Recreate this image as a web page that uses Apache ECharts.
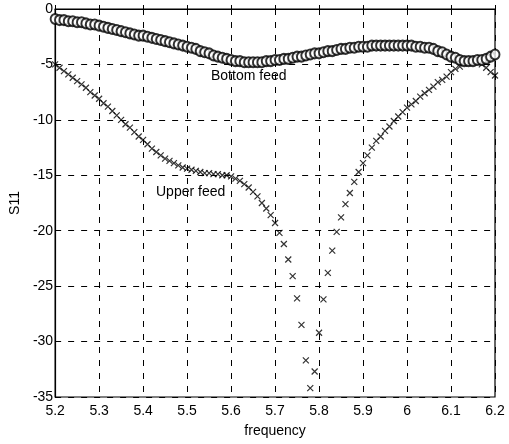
<!DOCTYPE html>
<html>
<head>
<meta charset="utf-8">
<script src="https://cdn.jsdelivr.net/npm/echarts@6/dist/echarts.min.js"></script>
<style>
  html, body { margin: 0; padding: 0; background: #fff; }
  #chart { width: 509px; height: 444px; }
</style>
</head>
<body>
<div id="chart"></div>
<script>
// frequency points, 5.20 .. 6.20 in steps of 0.01
var freq = [];
for (var i = 0; i <= 100; i++) freq.push(+(5.2 + i * 0.01).toFixed(2));

// S11, bottom feed (circles)
var bottomFeed = [
  -0.9, -1.0, -1.0, -1.1, -1.1, -1.2, -1.2, -1.3, -1.4, -1.4,
  -1.5, -1.6, -1.7, -1.8, -1.9, -2.0, -2.1, -2.2, -2.3, -2.4,
  -2.4, -2.5, -2.6, -2.7, -2.8, -2.9, -3.0, -3.1, -3.2, -3.3,
  -3.4, -3.5, -3.6, -3.8, -3.9, -4.0, -4.2, -4.3, -4.4, -4.5,
  -4.6, -4.7, -4.7, -4.8, -4.8, -4.8, -4.8, -4.8, -4.7, -4.7,
  -4.6, -4.6, -4.5, -4.5, -4.4, -4.3, -4.3, -4.2, -4.1, -4.0,
  -4.0, -3.9, -3.8, -3.8, -3.7, -3.6, -3.6, -3.5, -3.5, -3.4,
  -3.4, -3.4, -3.3, -3.3, -3.3, -3.3, -3.3, -3.3, -3.3, -3.3,
  -3.3, -3.3, -3.4, -3.4, -3.5, -3.5, -3.6, -3.8, -3.9, -4.1,
  -4.3, -4.4, -4.6, -4.7, -4.7, -4.7, -4.6, -4.6, -4.5, -4.3,
  -4.1
];

// S11, upper feed (crosses)
var upperFeed = [
  -5.0, -5.3, -5.6, -5.9, -6.2, -6.5, -6.8, -7.1, -7.5, -7.8,
  -8.1, -8.5, -8.8, -9.2, -9.6, -10.0, -10.4, -10.7, -11.1, -11.5,
  -11.8, -12.2, -12.6, -12.9, -13.2, -13.5, -13.7, -13.9, -14.1, -14.3,
  -14.4, -14.5, -14.6, -14.7, -14.8, -14.8, -14.9, -14.9, -15.0, -15.0,
  -15.1, -15.3, -15.5, -15.8, -16.1, -16.5, -16.9, -17.5, -18.0, -18.6,
  -19.3, -20.2, -21.2, -22.6, -24.1, -26.1, -28.5, -31.7, -34.2, -32.7,
  -29.2, -26.2, -23.8, -21.8, -20.1, -18.8, -17.6, -16.6, -15.6, -14.7,
  -13.9, -13.2, -12.5, -11.9, -11.5, -11.0, -10.6, -10.1, -9.7, -9.3,
  -8.9, -8.6, -8.3, -7.9, -7.6, -7.3, -7.0, -6.6, -6.4, -6.1,
  -5.7, -5.4, -5.2, -4.9, -4.8, -4.7, -4.8, -5.0, -5.3, -5.7,
  -6.0
];

function pairs(ys) {
  return freq.map(function (f, k) { return [f, ys[k]]; });
}

var myChart = echarts.init(document.getElementById("chart"));
var font = "Liberation Sans, Arial, sans-serif";
var option = {
  animation: false,
  grid: {
    left: 45, right: 14, top: 9, bottom: 47,
    show: true, borderColor: "#000", borderWidth: 1.2, backgroundColor: "#fff"
  },
  xAxis: {
    type: "value",
    min: 5.2, max: 6.2, interval: 0.1,
    name: "frequency", nameLocation: "middle", nameGap: 27,
    nameTextStyle: { color: "#000", fontSize: 14, fontFamily: font },
    axisLine: { lineStyle: { color: "#000", width: 1.2 } },
    axisTick: { inside: true, length: 4, lineStyle: { color: "#000" } },
    axisLabel: { color: "#000", fontSize: 14, fontFamily: font, margin: 7 },
    splitLine: { show: true, lineStyle: { color: "#000", type: [6, 7], width: 1 } }
  },
  yAxis: {
    type: "value",
    min: -35, max: 0, interval: 5,
    name: "S11", nameLocation: "middle", nameGap: 29,
    nameTextStyle: { color: "#000", fontSize: 14, fontFamily: font },
    axisLine: { show: true, lineStyle: { color: "#000", width: 1.2 } },
    axisTick: { show: true, inside: true, length: 4, lineStyle: { color: "#000" } },
    axisLabel: { color: "#000", fontSize: 14, fontFamily: font, margin: 2 },
    splitLine: { show: true, lineStyle: { color: "#000", type: [6, 7], width: 1 } }
  },
  series: [
    {
      name: "Upper feed",
      type: "scatter",
      symbol: "path://M0,0L10,10M10,0L0,10",
      symbolSize: 6,
      itemStyle: { color: "transparent", borderColor: "#000", borderWidth: 1.2 },
      data: pairs(upperFeed)
    },
    {
      name: "Bottom feed",
      type: "scatter",
      symbol: "emptyCircle",
      symbolSize: [9, 10],
      itemStyle: { color: "#000", borderColor: "#000", borderWidth: 1.2 },
      data: pairs(bottomFeed)
    }
  ],
  graphic: [
    {
      type: "text", left: 211, top: 69,
      style: { text: "Bottom feed", fill: "#000", font: "14px " + font }
    },
    {
      type: "text", left: 156, top: 185,
      style: { text: "Upper feed", fill: "#000", font: "14px " + font }
    }
  ]
};
myChart.clear();
myChart.setOption(option);
</script>
</body>
</html>
